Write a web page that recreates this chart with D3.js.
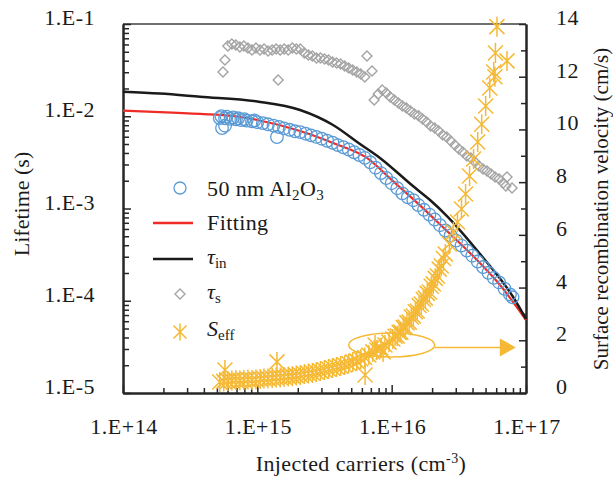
<!DOCTYPE html>
<html>
<head>
<meta charset="utf-8">
<script src="https://cdn.jsdelivr.net/npm/d3@7"></script>
<style>
body { margin: 0; background: #fff; }
</style>
</head>
<body>
<div id="chart"></div>
<script>
const width = 613;
const height = 481;
const margin = { top: 24, right: 87, bottom: 88, left: 123 };
const fontFamily = "'Liberation Serif', 'Times New Roman', serif";

// axis ticks
const xMajor = [1e14, 1e15, 1e16, 1e17];
const xMajorLabels = ["1.E+14", "1.E+15", "1.E+16", "1.E+17"];
const yMajor = [1e-5, 1e-4, 1e-3, 1e-2, 1e-1];
const yMajorLabels = ["1.E-5", "1.E-4", "1.E-3", "1.E-2", "1.E-1"];
const rMajor = [0, 2, 4, 6, 8, 10, 12, 14];
const rMinor = [1, 3, 5, 7, 9, 11, 13];

// measured lifetime, 50 nm Al2O3  [injected carriers cm-3, lifetime s]
const measured = [
    [5.25e14, 9.57e-3], [5.4e14, 1.0e-2], [5.46e14, 7.46e-3], [5.75e14, 7.9e-3], [5.75e14, 9.48e-3],
    [5.9e14, 9.9e-3], [6.31e14, 9.38e-3], [6.6e14, 9.7e-3], [6.92e14, 9.24e-3], [7.2e14, 9.5e-3],
    [7.59e14, 9.11e-3], [8.0e14, 9.3e-3], [8.32e14, 8.97e-3], [9.12e14, 8.82e-3], [9.5e14, 9.0e-3],
    [1.00e15, 8.62e-3], [1.10e15, 8.43e-3], [1.20e15, 8.18e-3], [1.32e15, 7.92e-3], [1.40e15, 5.96e-3],
    [1.45e15, 7.65e-3], [1.58e15, 7.38e-3], [1.74e15, 7.13e-3], [1.91e15, 6.87e-3], [2.09e15, 6.73e-3],
    [2.29e15, 6.47e-3], [2.51e15, 6.21e-3], [2.75e15, 5.97e-3], [3.02e15, 5.71e-3], [3.31e15, 5.43e-3],
    [3.63e15, 5.16e-3], [3.98e15, 4.87e-3], [4.37e15, 4.61e-3], [4.79e15, 4.36e-3], [5.25e15, 4.07e-3],
    [5.75e15, 3.80e-3], [6.31e15, 3.54e-3], [6.92e15, 3.17e-3], [7.59e15, 2.77e-3], [8.32e15, 2.42e-3],
    [9.12e15, 2.14e-3], [1.00e16, 1.88e-3], [1.10e16, 1.66e-3], [1.20e16, 1.46e-3], [1.32e16, 1.32e-3],
    [1.45e16, 1.23e-3], [1.58e16, 1.09e-3], [1.74e16, 9.68e-4], [1.91e16, 8.59e-4], [2.09e16, 7.60e-4],
    [2.29e16, 6.59e-4], [2.51e16, 5.77e-4], [2.75e16, 5.10e-4], [3.02e16, 4.49e-4], [3.31e16, 3.96e-4],
    [3.63e16, 3.50e-4], [3.98e16, 3.08e-4], [4.37e16, 2.66e-4], [4.79e16, 2.32e-4], [5.25e16, 2.01e-4],
    [5.75e16, 1.77e-4], [6.31e16, 1.58e-4], [6.92e16, 1.35e-4], [7.59e16, 1.17e-4], [7.94e16, 1.09e-4]
];

// fitted lifetime
const fitting = [
    [1e14, 1.148e-2], [1.88e14, 1.11e-2], [3.74e14, 1.06e-2], [6.59e14, 1.006e-2], [1e15, 9.11e-3],
    [2.08e15, 6.92e-3], [3.66e15, 5.13e-3], [6.55e15, 3.53e-3], [1e16, 2.04e-3], [1.44e16, 1.27e-3],
    [2.49e16, 5.99e-4], [4.04e16, 3.05e-4], [6.41e16, 1.48e-4], [1e17, 6.18e-5]
];

// intrinsic lifetime
const tauIn = [
    [1e14, 1.846e-2], [1.88e14, 1.764e-2], [3.74e14, 1.628e-2], [1e15, 1.445e-2], [2.08e15, 1.169e-2],
    [3.66e15, 8.04e-3], [5.81e15, 5.00e-3], [8.18e15, 3.53e-3], [1.44e16, 1.75e-3], [1.93e16, 1.237e-3],
    [2.58e16, 8.29e-4], [4.55e16, 3.21e-4], [8.02e16, 1.098e-4], [1e17, 6.34e-5]
];

// surface lifetime
const tauS = [
    [5.55e14, 3.02e-2], [5.74e14, 4.07e-2], [6.03e14, 5.78e-2], [6.46e14, 6.07e-2], [6.92e14, 5.92e-2],
    [7.41e14, 5.63e-2], [7.94e14, 5.78e-2], [8.51e14, 5.49e-2], [9.12e14, 5.23e-2], [9.77e14, 5.49e-2],
    [1.047e15, 5.23e-2], [1.122e15, 5.36e-2], [1.202e15, 5.10e-2], [1.288e15, 5.23e-2], [1.380e15, 5.36e-2],
    [1.43e15, 2.47e-2], [1.479e15, 5.23e-2], [1.585e15, 5.36e-2], [1.698e15, 5.23e-2], [1.820e15, 5.49e-2],
    [1.950e15, 5.36e-2], [2.089e15, 5.36e-2], [2.239e15, 4.85e-2], [2.399e15, 4.61e-2], [2.570e15, 4.50e-2],
    [2.754e15, 4.28e-2], [2.951e15, 4.28e-2], [3.162e15, 4.17e-2], [3.388e15, 4.07e-2], [3.631e15, 3.87e-2],
    [3.890e15, 3.78e-2], [4.169e15, 3.68e-2], [4.467e15, 3.51e-2], [4.786e15, 3.34e-2], [5.129e15, 3.17e-2],
    [5.495e15, 3.02e-2], [5.888e15, 2.87e-2], [6.310e15, 2.66e-2], [6.55e15, 4.50e-2], [7.14e15, 3.09e-2],
    [7.41e15, 1.50e-2], [7.94e15, 1.74e-2], [8.51e15, 1.93e-2], [9.12e15, 1.79e-2], [9.77e15, 1.62e-2],
    [1.047e16, 1.50e-2], [1.122e16, 1.39e-2], [1.202e16, 1.29e-2], [1.288e16, 1.23e-2], [1.380e16, 1.14e-2],
    [1.479e16, 1.06e-2], [1.585e16, 1.01e-2], [1.698e16, 9.34e-3], [1.820e16, 8.66e-3], [1.950e16, 7.84e-3],
    [2.089e16, 7.46e-3], [2.239e16, 6.92e-3], [2.399e16, 6.26e-3], [2.570e16, 5.96e-3], [2.754e16, 5.39e-3],
    [2.951e16, 4.88e-3], [3.162e16, 4.42e-3], [3.388e16, 4.10e-3], [3.631e16, 3.71e-3], [3.890e16, 3.53e-3],
    [4.169e16, 3.19e-3], [4.467e16, 2.89e-3], [4.786e16, 2.68e-3], [5.129e16, 2.55e-3], [5.495e16, 2.37e-3],
    [5.888e16, 2.19e-3], [6.310e16, 2.09e-3], [6.761e16, 1.89e-3], [7.079e16, 1.75e-3], [7.22e16, 2.19e-3],
    [7.87e16, 1.67e-3]
];

// effective surface recombination velocity [cm-3, cm/s]
const sEff = [
    [5.25e14, 0.42], [5.62e14, 0.44], [5.74e14, 0.87], [6.03e14, 0.46], [6.46e14, 0.47], [6.92e14, 0.49],
    [7.41e14, 0.47], [7.94e14, 0.49], [8.51e14, 0.51], [9.12e14, 0.49], [9.77e14, 0.51], [1.05e15, 0.53],
    [1.12e15, 0.55], [1.20e15, 0.55], [1.29e15, 0.57], [1.38e15, 0.59], [1.40e15, 1.18], [1.48e15, 0.59],
    [1.58e15, 0.61], [1.70e15, 0.63], [1.82e15, 0.64], [1.95e15, 0.66], [2.09e15, 0.68], [2.24e15, 0.72],
    [2.40e15, 0.74], [2.57e15, 0.76], [2.75e15, 0.80], [2.95e15, 0.83], [3.16e15, 0.87], [3.39e15, 0.91],
    [3.63e15, 0.95], [3.89e15, 0.99], [4.17e15, 1.02], [4.47e15, 1.06], [4.79e15, 1.12], [5.13e15, 1.18],
    [5.50e15, 1.21], [5.89e15, 1.29], [6.31e15, 1.35], [6.34e15, 0.68], [6.76e15, 1.44], [7.24e15, 1.56],
    [7.52e15, 1.82], [7.76e15, 1.63], [8.32e15, 1.71], [8.63e15, 1.56], [8.91e15, 1.82], [9.55e15, 1.93],
    [1.02e16, 2.05], [1.06e16, 2.15], [1.10e16, 2.16], [1.135e16, 2.30], [1.17e16, 2.31], [1.22e16, 2.48],
    [1.26e16, 2.50], [1.30e16, 2.66], [1.35e16, 2.69], [1.40e16, 2.88], [1.45e16, 2.92], [1.50e16, 3.08],
    [1.55e16, 3.11], [1.60e16, 3.32], [1.66e16, 3.38], [1.72e16, 3.55], [1.78e16, 3.60], [1.84e16, 3.78],
    [1.91e16, 3.83], [1.97e16, 4.05], [2.04e16, 4.14], [2.11e16, 4.35], [2.19e16, 4.44], [2.26e16, 4.70],
    [2.34e16, 4.82], [2.43e16, 5.10], [2.51e16, 5.27], [2.69e16, 5.65], [2.88e16, 6.11], [3.09e16, 6.49],
    [3.31e16, 6.98], [3.55e16, 7.55], [3.80e16, 8.23], [4.07e16, 8.88], [4.37e16, 9.52],
    [4.68e16, 10.20], [5.01e16, 10.89], [5.37e16, 11.57], [5.75e16, 12.18], [5.87e16, 12.0], [5.92e16, 12.9],
    [6.08e16, 13.9], [7.22e16, 12.6]
];

const colors = { measured: "#5b9bd5", fitting: "#ee2b24", tauIn: "#1a1a1a", tauS: "#a5a5a5", sEff: "#f5b935", axis: "#262626" };

const plotW = width - margin.left - margin.right;
const plotH = height - margin.top - margin.bottom;

const x = d3.scaleLog().domain([1e14, 1e17]).range([margin.left, margin.left + plotW]);
const y = d3.scaleLog().domain([1e-5, 1e-1]).range([margin.top + plotH, margin.top]);
const yR = d3.scaleLinear().domain([0, 14]).range([margin.top + plotH, margin.top]);

const svg = d3.select("#chart").append("svg")
    .attr("width", width).attr("height", height)
    .attr("font-family", fontFamily).attr("fill", "#1a1a1a");

// ---- axes ----
const isMajor = (v) => Math.abs(Math.log10(v) - Math.round(Math.log10(v))) < 1e-6;
const xMinor = x.ticks().filter((v) => !isMajor(v));
const yMinor = y.ticks().filter((v) => !isMajor(v));

function styleAxis(g, w) {
    g.select(".domain").attr("stroke", colors.axis).attr("stroke-width", w);
    g.selectAll(".tick line").attr("stroke", colors.axis).attr("stroke-width", 1.5);
    g.selectAll(".tick text").remove();
}

const bottom = margin.top + plotH;
const right = margin.left + plotW;

svg.append("line")
    .attr("x1", margin.left).attr("x2", right)
    .attr("y1", margin.top).attr("y2", margin.top)
    .attr("stroke", "#404040").attr("stroke-width", 1.5);

svg.append("g").attr("transform", `translate(0,${bottom})`)
    .call(d3.axisBottom(x).tickValues(xMinor).tickSizeInner(-5).tickSizeOuter(0))
    .call((g) => styleAxis(g, 2));
svg.append("g").attr("transform", `translate(0,${bottom})`)
    .call(d3.axisBottom(x).tickValues(xMajor).tickSizeInner(-8).tickSizeOuter(0))
    .call((g) => styleAxis(g, 2));

svg.append("g").attr("transform", `translate(${margin.left},0)`)
    .call(d3.axisLeft(y).tickValues(yMinor).tickSizeInner(-6).tickSizeOuter(0))
    .call((g) => styleAxis(g, 2));
svg.append("g").attr("transform", `translate(${margin.left},0)`)
    .call(d3.axisLeft(y).tickValues(yMajor).tickSizeInner(-8).tickSizeOuter(0))
    .call((g) => styleAxis(g, 2));

svg.append("g").attr("transform", `translate(${right},0)`)
    .call(d3.axisRight(yR).tickValues(rMinor).tickSizeInner(-5).tickSizeOuter(0))
    .call((g) => styleAxis(g, 2));
svg.append("g").attr("transform", `translate(${right},0)`)
    .call(d3.axisRight(yR).tickValues(rMajor).tickSizeInner(-7).tickSizeOuter(0))
    .call((g) => styleAxis(g, 2));

// tick labels
svg.append("g").selectAll("text").data(xMajor).join("text")
    .attr("x", (d) => x(d) + 1).attr("y", 434)
    .attr("text-anchor", "middle").attr("font-size", 22).attr("letter-spacing", 0.5)
    .text((d, i) => xMajorLabels[i]);

svg.append("g").selectAll("text").data(yMajor).join("text")
    .attr("x", 95).attr("y", (d) => y(d) + 1)
    .attr("text-anchor", "end").attr("font-size", 22).attr("letter-spacing", 0.5)
    .text((d, i) => yMajorLabels[i]);

svg.append("g").selectAll("text").data(rMajor).join("text")
    .attr("x", 556).attr("y", (d) => yR(d) + 1)
    .attr("text-anchor", "start").attr("font-size", 22).attr("letter-spacing", 0.5)
    .text((d) => d);

// axis titles
svg.append("text")
    .attr("transform", "translate(29,204) rotate(-90)")
    .attr("text-anchor", "middle").attr("font-size", 22)
    .text("Lifetime (s)");

svg.append("text")
    .attr("transform", "translate(608,209) rotate(-90)")
    .attr("text-anchor", "middle").attr("font-size", 21)
    .text("Surface recombination velocity (cm/s)");

const xTitle = svg.append("text")
    .attr("x", 361).attr("y", 471)
    .attr("text-anchor", "middle").attr("font-size", 22).attr("letter-spacing", 0.4);
xTitle.append("tspan").text("Injected carriers (cm");
xTitle.append("tspan").attr("font-size", 14).attr("dy", -8).text("-3");
xTitle.append("tspan").attr("dy", 8).text(")");

// ---- series ----
const line = d3.line().x((d) => x(d[0])).y((d) => y(d[1])).curve(d3.curveMonotoneX);

svg.append("path").datum(fitting).attr("d", line)
    .attr("fill", "none").attr("stroke", colors.fitting).attr("stroke-width", 2.2);
svg.append("path").datum(tauIn).attr("d", line)
    .attr("fill", "none").attr("stroke", colors.tauIn).attr("stroke-width", 2.5);

svg.append("g").selectAll("circle").data(measured).join("circle")
    .attr("cx", (d) => x(d[0])).attr("cy", (d) => y(d[1])).attr("r", 6.3)
    .attr("fill", "none").attr("stroke", colors.measured).attr("stroke-width", 1.3);

const diamond = "M0,-5L5,0L0,5L-5,0Z";
const star = "M-7.5,-7.5L7.5,7.5M-7.5,7.5L7.5,-7.5M0,-10L0,10";

svg.append("g").selectAll("path").data(tauS).join("path")
    .attr("transform", (d) => `translate(${x(d[0])},${y(d[1])})`)
    .attr("d", diamond)
    .attr("fill", "none").attr("stroke", colors.tauS).attr("stroke-width", 1.4);

svg.append("g").selectAll("path").data(sEff).join("path")
    .attr("transform", (d) => `translate(${x(d[0])},${yR(d[1])})`)
    .attr("d", star)
    .attr("fill", "none").attr("stroke", colors.sEff).attr("stroke-width", 1.5);

// ---- annotation: ellipse + arrow to right axis ----
svg.append("ellipse")
    .attr("cx", x(1e16)).attr("cy", yR(1.82)).attr("rx", 43).attr("ry", 12)
    .attr("fill", "none").attr("stroke", colors.sEff).attr("stroke-width", 1.5);
const arrowY = yR(1.73);
svg.append("line")
    .attr("x1", x(1e16) + 43).attr("x2", x(8.4e16) - 14)
    .attr("y1", arrowY).attr("y2", arrowY)
    .attr("stroke", colors.sEff).attr("stroke-width", 1.5);
svg.append("path")
    .attr("d", `M${x(8.4e16)},${arrowY}L${x(8.4e16) - 16},${arrowY - 9}L${x(8.4e16) - 16},${arrowY + 9}Z`)
    .attr("fill", colors.sEff);

// ---- legend ----
const legend = svg.append("g");
const lx = 180;
legend.append("circle").attr("cx", lx).attr("cy", 188).attr("r", 6)
    .attr("fill", "none").attr("stroke", colors.measured).attr("stroke-width", 1.3);
legend.append("line").attr("x1", 153).attr("x2", 193).attr("y1", 223).attr("y2", 223)
    .attr("stroke", colors.fitting).attr("stroke-width", 2.5);
legend.append("line").attr("x1", 153).attr("x2", 193).attr("y1", 259).attr("y2", 259)
    .attr("stroke", colors.tauIn).attr("stroke-width", 2.5);
legend.append("path").attr("transform", `translate(${lx},294)`).attr("d", diamond)
    .attr("fill", "none").attr("stroke", colors.tauS).attr("stroke-width", 1.4);
legend.append("path").attr("transform", `translate(${lx},332)`).attr("d", "M-6.5,-6.5L6.5,6.5M-6.5,6.5L6.5,-6.5M0,-8.5L0,8.5")
    .attr("fill", "none").attr("stroke", colors.sEff).attr("stroke-width", 1.5);

const tx = 207;
const t1 = legend.append("text").attr("x", tx).attr("y", 196).attr("font-size", 22).attr("letter-spacing", 0.4);
t1.append("tspan").text("50 nm Al");
t1.append("tspan").attr("font-size", 15).attr("dy", 4).text("2");
t1.append("tspan").attr("dy", -4).text("O");
t1.append("tspan").attr("font-size", 15).attr("dy", 4).text("3");

legend.append("text").attr("x", tx).attr("y", 230).attr("font-size", 22).attr("letter-spacing", 0.4).text("Fitting");

const t3 = legend.append("text").attr("x", tx).attr("y", 264).attr("font-size", 22);
t3.append("tspan").attr("font-style", "italic").text("τ");
t3.append("tspan").attr("font-size", 15).attr("dy", 4).text("in");

const t4 = legend.append("text").attr("x", tx).attr("y", 299).attr("font-size", 22);
t4.append("tspan").attr("font-style", "italic").text("τ");
t4.append("tspan").attr("font-size", 15).attr("dy", 4).text("s");

const t5 = legend.append("text").attr("x", tx).attr("y", 336).attr("font-size", 22);
t5.append("tspan").attr("font-style", "italic").text("S");
t5.append("tspan").attr("font-size", 15).attr("dy", 4).text("eff");
</script>
</body>
</html>
